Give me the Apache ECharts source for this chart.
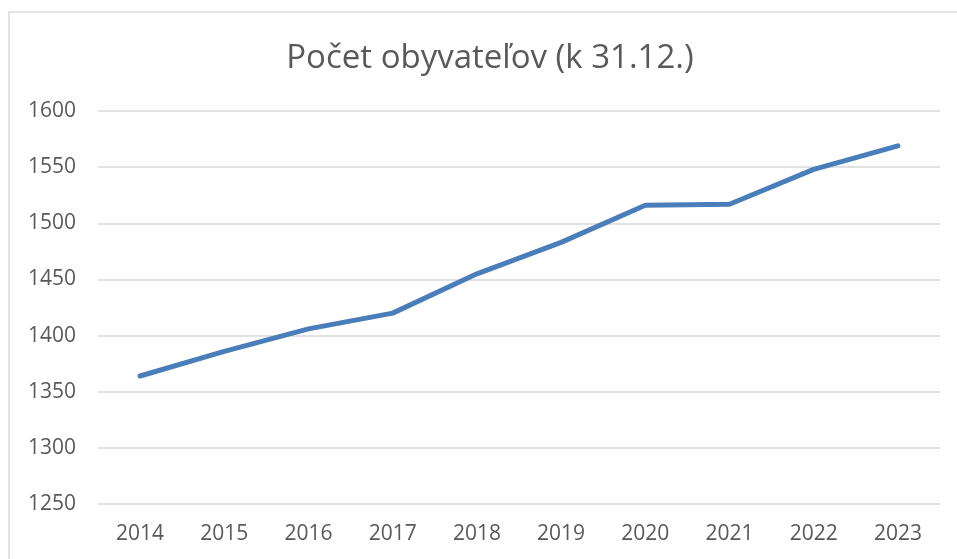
<!DOCTYPE html>
<html>
<head>
<meta charset="utf-8">
<script src="https://cdn.jsdelivr.net/npm/echarts@6/dist/echarts.min.js"></script>
<style>
html,body{margin:0;padding:0;background:#fff;}
#chart{width:957px;height:559px;}
</style>
</head>
<body>
<div id="chart"></div>
<script>
const titleText = 'Počet obyvateľov (k 31.12.)';
const years = ['2014','2015','2016','2017','2018','2019','2020','2021','2022','2023'];
const population = [1364, 1386, 1406, 1420, 1455, 1483, 1516, 1517, 1548, 1569];
const yMin = 1250, yMax = 1600, yStep = 50;

const chart = echarts.init(document.getElementById('chart'), null, {renderer:'canvas'});
chart.setOption({
  backgroundColor: '#ffffff',
  animation: false,
  graphic: [{
    type: 'rect',
    shape: {x: 9, y: 12, width: 1000, height: 600},
    style: {fill: 'none', stroke: '#d9d9d9', lineWidth: 1.5},
    z: -10
  }],
  title: {
    text: titleText,
    left: 485,
    textAlign: 'center',
    top: 37,
    textStyle: {fontFamily: 'Open Sans', fontSize: 33, fontWeight: 'normal', color: '#595959'}
  },
  grid: {left: 98, right: 17, top: 111, bottom: 55, containLabel: false},
  xAxis: {
    type: 'category',
    data: years,
    boundaryGap: true,
    axisLine: {show: false},
    axisTick: {show: false},
    axisLabel: {margin: 20, fontFamily: 'Open Sans', fontSize: 21, color: '#595959'}
  },
  yAxis: {
    type: 'value',
    min: yMin, max: yMax, interval: yStep,
    axisLine: {show: false},
    axisTick: {show: false},
    splitLine: {lineStyle: {color: '#d9d9d9', width: 1.5}},
    axisLabel: {margin: 22, fontFamily: 'Open Sans', fontSize: 21, color: '#595959',
      formatter: function (v) { return String(v); }}
  },
  series: [{
    type: 'line',
    data: population,
    symbol: 'none',
    lineStyle: {color: '#4a7ebb', width: 5, cap: 'round', join: 'round'}
  }]
});
</script>
</body>
</html>
